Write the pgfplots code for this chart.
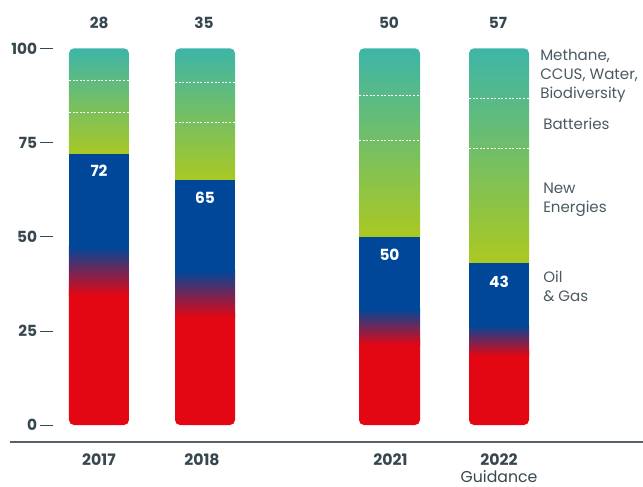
\documentclass[border=0pt]{standalone}
\usepackage{fontspec}
\setmainfont{Poppins}
\usepackage{pgfplots}
\pgfplotsset{compat=1.18}
\definecolor{cred}{HTML}{E30613}
\definecolor{cblue}{HTML}{00479A}
\definecolor{cyg}{HTML}{AEC91E}
\definecolor{cteal}{HTML}{3DB5A8}
\definecolor{ctext}{HTML}{37474F}
\definecolor{clabel}{HTML}{4A5A60}
\begin{document}
\begin{tikzpicture}
\begin{axis}[
  name=ax,
  scale only axis,
  width=474.75pt, height=324pt,
  xmin=0.10, xmax=6.43,
  ymin=-4.51, ymax=110.17,
  clip=false,
  axis x line*=bottom, axis y line*=left,
  y axis line style={draw=none},
  x axis line style={draw=ctext!85, line width=0.8pt},
  xtick={0.99,2.02,3.905,4.99},
  xticklabels={\textbf{2017},\textbf{2018},\textbf{2021},\textbf{2022}\\Guidance},
  xticklabel style={align=center, anchor=north, inner sep=0pt, yshift=-9pt,
    font=\fontsize{11.8}{12.3}\selectfont, text=ctext},
  ytick={0,25,50,75,100},
  yticklabels={
    \textbf{0}\hspace{2.2pt}\rule[3.9pt]{9.5pt}{0.6pt},
    \textbf{25}\hspace{2.2pt}\rule[3.9pt]{9.5pt}{0.6pt},
    \textbf{50}\hspace{2.2pt}\rule[3.9pt]{9.5pt}{0.6pt},
    \textbf{75}\hspace{2.2pt}\rule[3.9pt]{9.5pt}{0.6pt},
    \textbf{100}\hspace{2.2pt}\rule[3.9pt]{9.5pt}{0.6pt}},
  yticklabel style={anchor=east, inner sep=0pt, xshift=32.25pt,
    font=\fontsize{11.5}{12}\selectfont, text=ctext},
  major tick length=0pt,
  tick style={draw=none},
]
% ---- 2017 ----
\addplot[draw=none, fill=cred, rounded corners=3.75pt] coordinates {(0.99,0) (1.29,0) (1.29,37.5) (0.69,37.5) (0.69,0) (0.99,0)};
\addplot[draw=none, bottom color=cyg, top color=cteal, rounded corners=3.75pt] coordinates {(0.99,70.5) (1.29,70.5) (1.29,100) (0.69,100) (0.69,70.5) (0.99,70.5)};
\addplot[draw=none, bottom color=cred, top color=cblue] coordinates {(0.69,34.5) (1.29,34.5) (1.29,47.3) (0.69,47.3)};
\addplot[draw=none, fill=cblue] coordinates {(0.69,47.1) (1.29,47.1) (1.29,72) (0.69,72)};
\addplot[white, line width=0.6pt, dash pattern=on 1.5pt off 1.2pt] coordinates {(0.69,82.9) (1.29,82.9)};
\addplot[white, line width=0.6pt, dash pattern=on 1.5pt off 1.2pt] coordinates {(0.69,91.5) (1.29,91.5)};
% ---- 2018 ----
\addplot[draw=none, fill=cred, rounded corners=3.75pt] coordinates {(2.05,0) (2.35,0) (2.35,31.6) (1.75,31.6) (1.75,0) (2.05,0)};
\addplot[draw=none, bottom color=cyg, top color=cteal, rounded corners=3.75pt] coordinates {(2.05,63.5) (2.35,63.5) (2.35,100) (1.75,100) (1.75,63.5) (2.05,63.5)};
\addplot[draw=none, bottom color=cred, top color=cblue] coordinates {(1.75,28.6) (2.35,28.6) (2.35,41.0) (1.75,41.0)};
\addplot[draw=none, fill=cblue] coordinates {(1.75,40.8) (2.35,40.8) (2.35,65) (1.75,65)};
\addplot[white, line width=0.6pt, dash pattern=on 1.5pt off 1.2pt] coordinates {(1.75,80.4) (2.35,80.4)};
\addplot[white, line width=0.6pt, dash pattern=on 1.5pt off 1.2pt] coordinates {(1.75,91.0) (2.35,91.0)};
% ---- 2021 ----
\addplot[draw=none, fill=cred, rounded corners=3.75pt] coordinates {(3.895,0) (4.20,0) (4.20,24.2) (3.59,24.2) (3.59,0) (3.895,0)};
\addplot[draw=none, bottom color=cyg, top color=cteal, rounded corners=3.75pt] coordinates {(3.895,48.5) (4.20,48.5) (4.20,100) (3.59,100) (3.59,48.5) (3.895,48.5)};
\addplot[draw=none, bottom color=cred, top color=cblue] coordinates {(3.59,21.2) (4.20,21.2) (4.20,30.8) (3.59,30.8)};
\addplot[draw=none, fill=cblue] coordinates {(3.59,30.6) (4.20,30.6) (4.20,50) (3.59,50)};
\addplot[white, line width=0.6pt, dash pattern=on 1.5pt off 1.2pt] coordinates {(3.59,75.6) (4.20,75.6)};
\addplot[white, line width=0.6pt, dash pattern=on 1.5pt off 1.2pt] coordinates {(3.59,87.5) (4.20,87.5)};
% ---- 2022 ----
\addplot[draw=none, fill=cred, rounded corners=3.75pt] coordinates {(4.99,0) (5.29,0) (5.29,21.4) (4.69,21.4) (4.69,0) (4.99,0)};
\addplot[draw=none, bottom color=cyg, top color=cteal, rounded corners=3.75pt] coordinates {(4.99,41.5) (5.29,41.5) (5.29,100) (4.69,100) (4.69,41.5) (4.99,41.5)};
\addplot[draw=none, bottom color=cred, top color=cblue] coordinates {(4.69,18.4) (5.29,18.4) (5.29,26.5) (4.69,26.5)};
\addplot[draw=none, fill=cblue] coordinates {(4.69,26.3) (5.29,26.3) (5.29,43) (4.69,43)};
\addplot[white, line width=0.6pt, dash pattern=on 1.5pt off 1.2pt] coordinates {(4.69,73.3) (5.29,73.3)};
\addplot[white, line width=0.6pt, dash pattern=on 1.5pt off 1.2pt] coordinates {(4.69,86.7) (5.29,86.7)};
% ---- labels ----
\begin{scope}[every node/.style={font=\bfseries\fontsize{11.5}{12}\selectfont, text=ctext}]
\node at (axis cs:0.993,106.7) {28};
\node at (axis cs:2.04,106.7) {35};
\node at (axis cs:3.89,106.7) {50};
\node at (axis cs:4.98,106.7) {57};
\end{scope}
\begin{scope}[every node/.style={font=\bfseries\fontsize{11.5}{12}\selectfont, text=white}]
\node at (axis cs:0.99,67.4) {72};
\node at (axis cs:2.05,60.3) {65};
\node at (axis cs:3.895,45.1) {50};
\node at (axis cs:4.99,38.0) {43};
\end{scope}
\begin{scope}[every node/.style={font=\fontsize{11.3}{14.25}\selectfont, text=clabel, align=left, anchor=west, inner sep=0pt}]
\node at (axis cs:5.40,92.6) {Methane,\\CCUS, Water,\\Biodiversity};
\node at (axis cs:5.43,79.9) {Batteries};
\node at (axis cs:5.43,59.7) {New\\Energies};
\node at (axis cs:5.43,36.9) {Oil\\\& Gas};
\end{scope}
\end{axis}
\pgfresetboundingbox
\path[use as bounding box] ([shift={(-7.5pt,-33.75pt)}]ax.south west) rectangle ([shift={(0pt,7.5pt)}]ax.north east);
\end{tikzpicture}
\end{document}
